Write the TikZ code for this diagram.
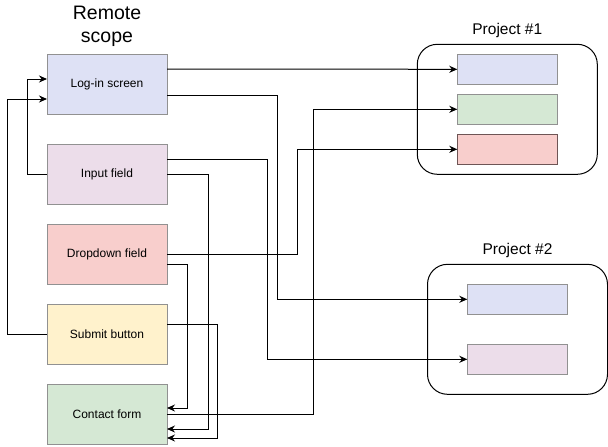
\documentclass[tikz,border=0pt]{standalone}
\usepackage{fontspec}
\setmainfont{Liberation Sans}
\usetikzlibrary{positioning,arrows.meta}

\definecolor{lavender}{RGB}{222,225,245}
\definecolor{pinkish}{RGB}{236,221,234}
\definecolor{rosy}{RGB}{248,206,204}
\definecolor{butter}{RGB}{255,242,204}
\definecolor{mint}{RGB}{213,232,212}
\definecolor{edge}{RGB}{145,145,145}
\definecolor{darkrose}{RGB}{110,85,85}

\tikzset{
  box/.style={draw=edge, line width=1pt, minimum width=120pt, minimum height=60pt,
    outer sep=0pt, font=\fontsize{12}{14}\selectfont},
  slot/.style={draw=edge, line width=1pt, minimum width=100pt, minimum height=30pt, outer sep=0pt},
  group/.style={draw, line width=1pt, rounded corners=20pt, minimum width=180pt,
    minimum height=130pt, outer sep=0pt},
  conn/.style={line width=1pt, -{Stealth[length=8pt,width=7pt]}},
}

\begin{document}
\begin{tikzpicture}[x=1pt,y=-1pt]
\useasboundingbox (0,0) rectangle (608,447);

% Remote scope
\node[align=center, font=\fontsize{19.5}{23}\selectfont] (title) at (107,26) {Remote\\scope};
\node[box, fill=lavender] (login) at (107,84) {Log-in screen};
\node[box, fill=pinkish, below=30pt of login] (input) {Input field};
\node[box, fill=rosy, below=20pt of input] (dropdown) {Dropdown field};
\node[box, fill=butter, below=20pt of dropdown] (submit) {Submit button};
\node[box, fill=mint, below=20pt of submit] (contact) {Contact form};

% Projects
\node[group] (proj1) at (507.3,109.3) {};
\node[font=\fontsize{15.5}{18}\selectfont, above=3pt of proj1] (proj1lbl) {Project \#1};
\node[slot, fill=lavender] (p1a) at (507.3,69.3) {};
\node[slot, fill=mint, below=10pt of p1a] (p1b) {};
\node[slot, fill=rosy, draw=darkrose, below=10pt of p1b] (p1c) {};

\node[group] (proj2) at (517.5,329.3) {};
\node[font=\fontsize{15.5}{18}\selectfont, above=3pt of proj2] (proj2lbl) {Project \#2};
\node[slot, fill=lavender] (p2a) at (517.3,299.3) {};
\node[slot, fill=pinkish, below=30pt of p2a] (p2b) {};

% Connectors
\draw[conn] ([yshift=15pt]login.east) -- (p1a.west);
\draw[conn] ([yshift=-11pt]login.east) -| ([xshift=-190pt]p2a.west) -- (p2a.west);
\draw[conn] ([yshift=15pt]input.east) -| ([xshift=-200pt]p2b.west) -- (p2b.west);
\draw[conn] (input.east) -- ++(41,0) |- ([yshift=-15pt]contact.east);
\draw[conn] (input.west) -- ++(-20,0) |- ([yshift=5pt]login.west);
\draw[conn] (submit.west) -- ++(-40,0) |- ([yshift=-15pt]login.west);
\draw[conn] (dropdown.east) -| ([xshift=-160pt]p1c.west) -- (p1c.west);
\draw[conn] ([yshift=-10pt]dropdown.east) -- ++(20,0) |- ([yshift=6pt]contact.east);
\draw[conn] ([yshift=10pt]submit.east) -- ++(50,0) |- ([yshift=-24pt]contact.east);
\draw[conn] (contact.east) -| ([xshift=-144pt]p1b.west) -- (p1b.west);
\end{tikzpicture}
\end{document}
